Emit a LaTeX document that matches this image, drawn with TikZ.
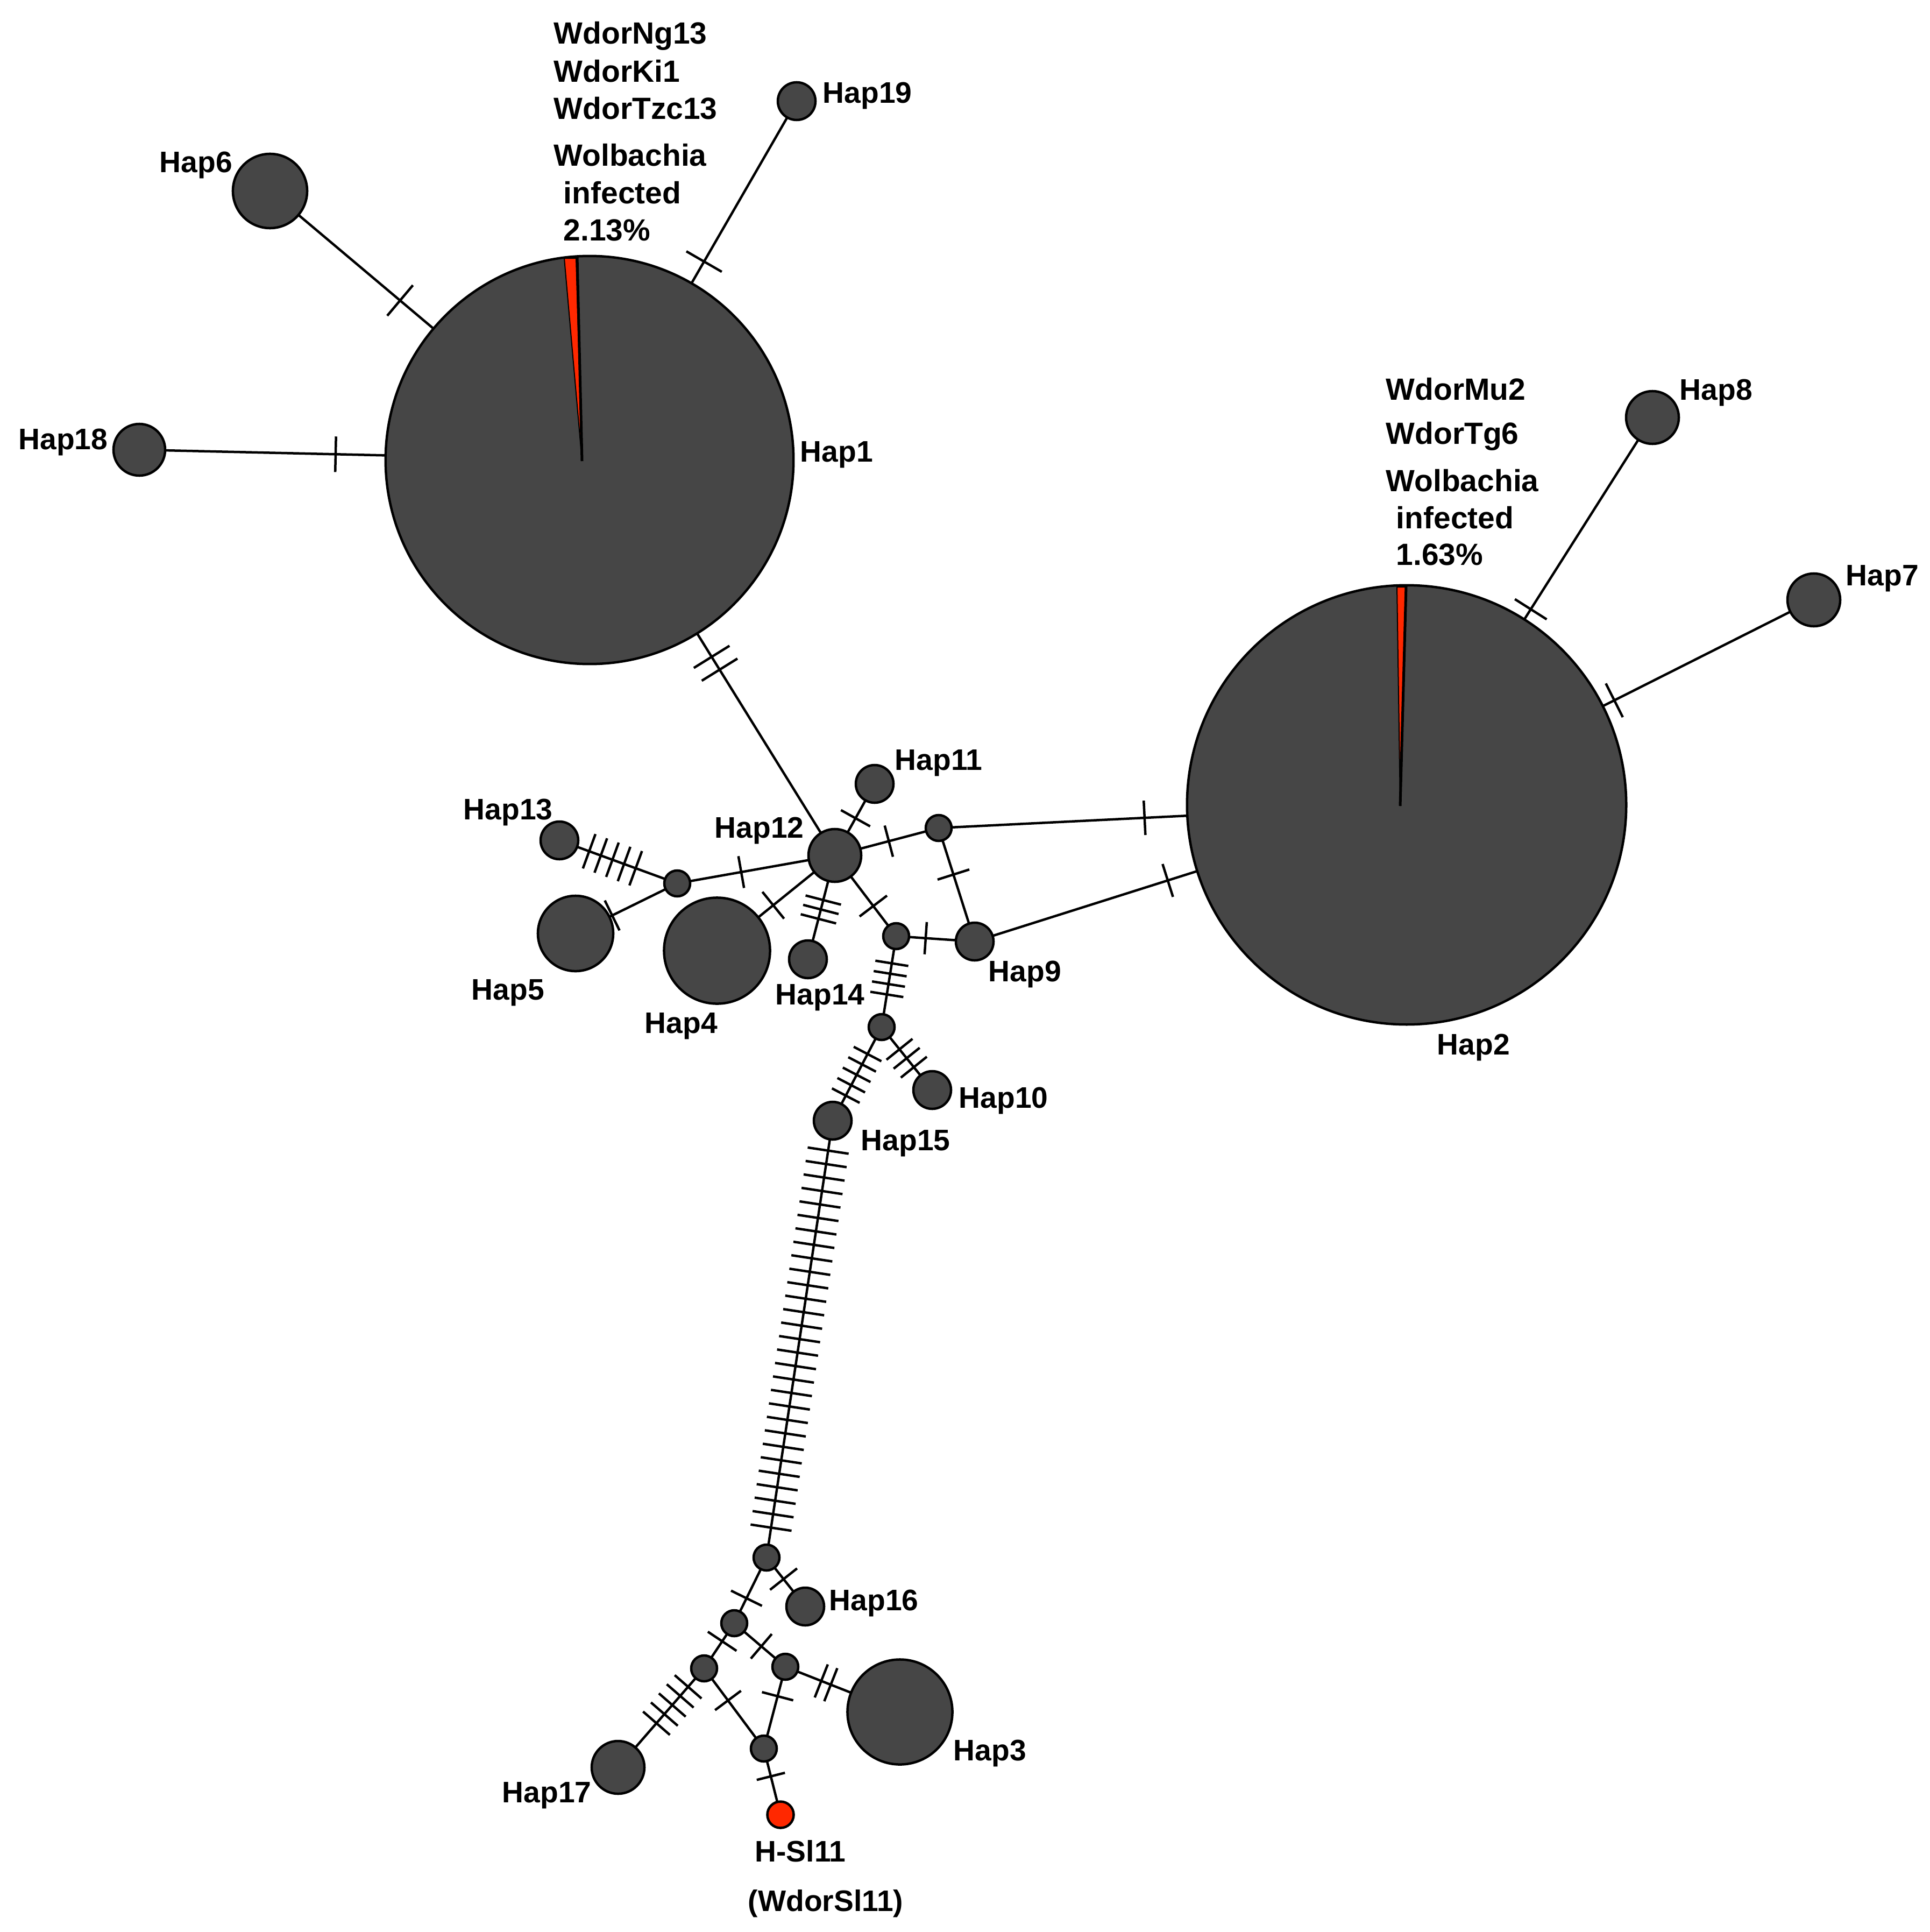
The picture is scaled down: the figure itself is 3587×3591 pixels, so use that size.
\documentclass[tikz,border=0pt]{standalone}
\usepackage{fontspec}
\setmainfont{Liberation Sans}
\usetikzlibrary{calc}
\definecolor{hapfill}{RGB}{70,70,70}
\definecolor{wolred}{RGB}{255,40,0}
\newcommand\hlabfont{\bfseries\fontsize{15.7}{18}\selectfont}
\newcommand\hannfont{\bfseries\fontsize{16.2}{19}\selectfont}
% ticks: #1 half length (cm), #2 from node, #3 to node, #4 count, #5 pos, #6 spacing (cm)
\newcommand\mtk[6][0.33]{%
  \path (#2.center) -- (#3.center) coordinate[pos=#5] (tkm);
  \foreach \i in {1,...,#4}{%
    \pgfmathsetmacro\tkoff{(\i-(#4+1)/2)*#6}%
    \coordinate (tkp) at ($(tkm)!\tkoff cm!(#3.center)$);
    \draw[mtick] ($(tkp)!#1cm!90:(#3.center)$) -- ($(tkp)!#1cm!-90:(#3.center)$);
  }%
}
\newcommand\medge[6][0.33]{%
  \draw[conn] (#2) -- (#3);
  \mtk[#1]{#2}{#3}{#4}{#5}{#6}%
}
\begin{document}
\begin{tikzpicture}[x=0.01cm, y=-0.01cm,
  hap/.style={circle, draw=black, fill=hapfill, line width=0.045cm, inner sep=0pt, outer sep=0pt},
  conn/.style={line width=0.045cm},
  mtick/.style={line width=0.045cm},
  lab/.style={anchor=base west, inner sep=0pt, font=\hlabfont},
  ann/.style={anchor=base west, inner sep=0pt, font=\hannfont},
  annc/.style={anchor=base, inner sep=0pt, font=\hlabfont}]
\useasboundingbox (0,0) rectangle (3587,3591);
\fill[white] (0,0) rectangle (3587,3591);

% haplotype nodes
\node[hap, minimum size=7.58cm] (hap1) at (1096,855) {};
\node[hap, minimum size=8.16cm] (hap2) at (2615,1496) {};
\node[hap, minimum size=1.95cm] (hap3) at (1673,3182) {};
\node[hap, minimum size=1.97cm] (hap4) at (1333,1767) {};
\node[hap, minimum size=1.40cm] (hap5) at (1070,1735) {};
\node[hap, minimum size=1.38cm] (hap6) at (502,355) {};
\node[hap, minimum size=0.98cm] (hap7) at (3372,1115) {};
\node[hap, minimum size=0.98cm] (hap8) at (3072,776) {};
\node[hap, minimum size=0.70cm] (hap9) at (1812,1750) {};
\node[hap, minimum size=0.70cm] (hap10) at (1733,2026) {};
\node[hap, minimum size=0.70cm] (hap11) at (1626,1457) {};
\node[hap, minimum size=0.98cm] (hap12) at (1552,1590) {};
\node[hap, minimum size=0.70cm] (hap13) at (1040,1562) {};
\node[hap, minimum size=0.70cm] (hap14) at (1502,1783) {};
\node[hap, minimum size=0.70cm] (hap15) at (1548,2083) {};
\node[hap, minimum size=0.70cm] (hap16) at (1497,2986) {};
\node[hap, minimum size=0.98cm] (hap17) at (1149,3285) {};
\node[hap, minimum size=0.96cm] (hap18) at (259,836) {};
\node[hap, minimum size=0.70cm] (hap19) at (1481,188) {};
\node[hap, minimum size=0.49cm, fill=wolred] (hsl) at (1451,3373) {};
% median vectors
\node[hap, minimum size=0.48cm] (mv1) at (1745,1539) {};
\node[hap, minimum size=0.48cm] (mv2) at (1259,1642) {};
\node[hap, minimum size=0.48cm] (mv3) at (1666,1740) {};
\node[hap, minimum size=0.48cm] (mv4) at (1639,1909) {};
\node[hap, minimum size=0.48cm] (mv5) at (1425,2895) {};
\node[hap, minimum size=0.48cm] (mv6) at (1365,3017) {};
\node[hap, minimum size=0.48cm] (mv7) at (1309,3101) {};
\node[hap, minimum size=0.48cm] (mv8) at (1460,3098) {};
\node[hap, minimum size=0.48cm] (mv9) at (1420,3250) {};

% pie wedges (Wolbachia infected)
\filldraw[fill=wolred, draw=black, line width=0.02cm] (1049,480) -- (1071,480) -- (1082,857) -- cycle;
\draw[line width=0.05cm] (1073,478) -- (1082,857);
\filldraw[fill=wolred, draw=black, line width=0.02cm] (2597,1091) -- (2613,1091) -- (2603,1498) -- cycle;
\draw[line width=0.05cm] (2614,1089) -- (2603,1498);

% connectors with mutation ticks
\medge[0.37]{hap6}{hap1}{1}{0.407}{0}
\medge[0.38]{hap1}{hap19}{1}{0.553}{0}
\medge[0.33]{hap18}{hap1}{1}{0.436}{0}
\medge[0.39]{hap1}{hap12}{2}{0.514}{0.28}
\medge[0.35]{hap2}{hap8}{1}{0.505}{0}
\medge[0.35]{hap2}{hap7}{1}{0.51}{0}
\medge[0.31]{hap12}{hap11}{1}{0.52}{0}
\medge[0.30]{hap12}{mv1}{1}{0.52}{0}
\medge[0.32]{mv1}{hap2}{1}{0.44}{0}
\medge[0.31]{mv1}{hap9}{1}{0.41}{0}
\medge[0.32]{hap9}{hap2}{1}{0.447}{0}
\medge[0.30]{hap12}{mv2}{1}{0.594}{0}
\medge[0.34]{mv2}{hap13}{5}{0.55}{0.23}
\medge[0.31]{mv2}{hap5}{1}{0.64}{0}
\medge[0.32]{hap12}{hap4}{1}{0.523}{0}
\medge[0.34]{hap12}{hap14}{3}{0.52}{0.18}
\medge[0.32]{hap12}{mv3}{1}{0.627}{0}
\medge[0.30]{mv3}{hap9}{1}{0.376}{0}
\medge[0.31]{mv3}{mv4}{4}{0.47}{0.195}
\medge[0.31]{mv4}{hap10}{3}{0.495}{0.213}
\medge[0.29]{mv4}{hap15}{5}{0.51}{0.218}
\medge[0.385]{hap15}{mv5}{29}{0.50}{0.253}
\medge[0.32]{mv5}{hap16}{1}{0.44}{0}
\medge[0.32]{mv5}{mv6}{1}{0.62}{0}
\medge[0.32]{mv6}{mv7}{1}{0.40}{0}
\medge[0.30]{mv6}{mv8}{1}{0.53}{0}
\medge[0.33]{mv7}{hap17}{5}{0.37}{0.224}
\medge[0.30]{mv7}{mv9}{1}{0.40}{0}
\medge[0.30]{mv8}{mv9}{1}{0.36}{0}
\medge[0.33]{mv8}{hap3}{2}{0.355}{0.19}
\medge[0.27]{mv9}{hsl}{1}{0.42}{0}

% labels
\node[lab] (l1) at (1487,858) {Hap1};
\node[lab] (l2) at (2671,1960) {Hap2};
\node[lab] (l3) at (1772,3272) {Hap3};
\node[lab] (l4) at (1198,1920) {Hap4};
\node[lab] (l5) at (876,1858) {Hap5};
\node[lab] (l6) at (296,321) {Hap6};
\node[lab] (l7) at (3431,1088) {Hap7};
\node[lab] (l8) at (3122,743) {Hap8};
\node[lab] (l9) at (1837,1824) {Hap9};
\node[lab] (l10) at (1782,2059) {Hap10};
\node[lab] (l11) at (1663,1431) {Hap11};
\node[lab] (l12) at (1328,1557) {Hap12};
\node[lab] (l13) at (861,1523) {Hap13};
\node[lab] (l14) at (1441,1867) {Hap14};
\node[lab] (l15) at (1600,2138) {Hap15};
\node[lab] (l16) at (1541,2993) {Hap16};
\node[lab] (l17) at (933,3350) {Hap17};
\node[lab] (l18) at (34,835) {Hap18};
\node[lab] (l19) at (1529,192) {Hap19};
\node[annc] (lhsl) at (1488,3460) {H-Sl11};
\node[annc] (lhsl2) at (1535,3552) {(WdorSl11)};

% annotations Hap1
\node[ann] (a1) at (1029,82) {WdorNg13};
\node[ann] (a2) at (1029,153) {WdorKi1};
\node[ann] (a3) at (1029,222) {WdorTzc13};
\node[ann] (a4) at (1029,309) {Wolbachia};
\node[ann] (a5) at (1047,379) {infected};
\node[ann] (a6) at (1047,448) {2.13\%};
% annotations Hap2
\node[ann] (b1) at (2576,743) {WdorMu2};
\node[ann] (b2) at (2576,825) {WdorTg6};
\node[ann] (b3) at (2576,913) {Wolbachia};
\node[ann] (b4) at (2595,982) {infected};
\node[ann] (b5) at (2595,1050) {1.63\%};
\end{tikzpicture}
\end{document}
